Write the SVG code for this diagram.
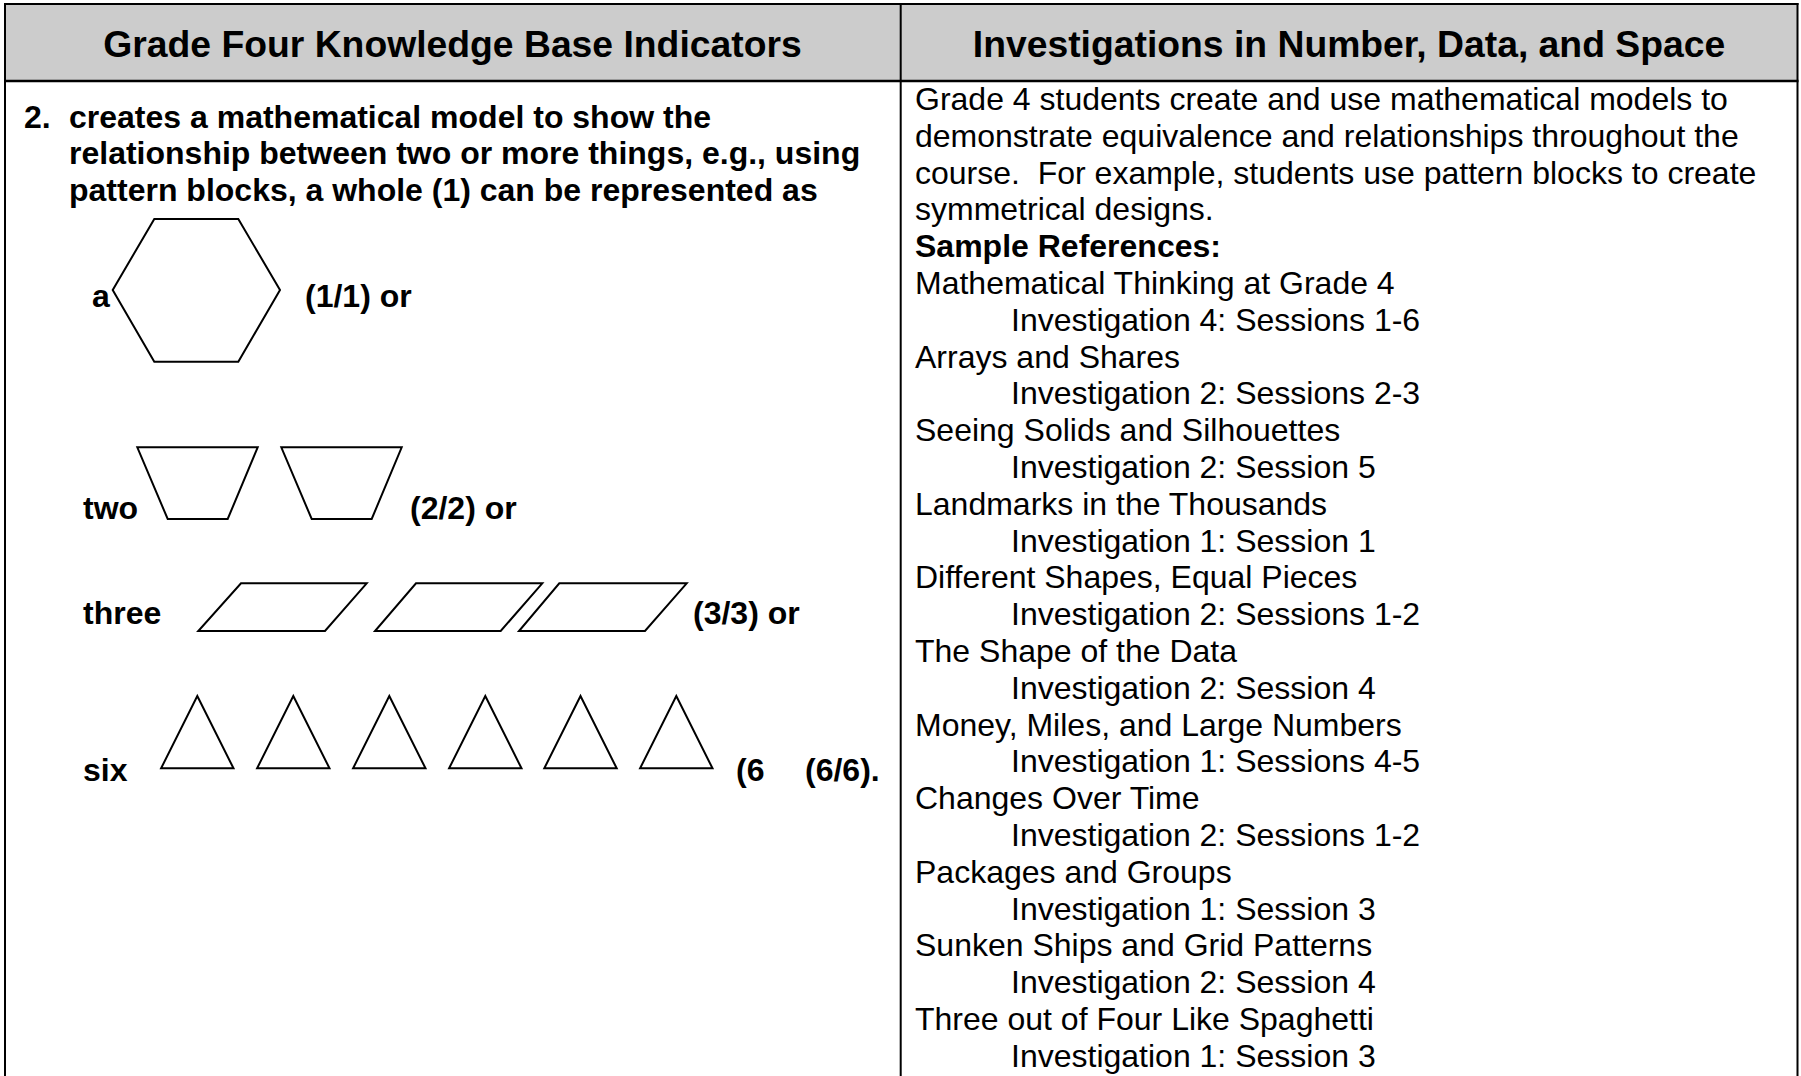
<svg xmlns="http://www.w3.org/2000/svg" width="1801" height="1076" viewBox="0 0 1801 1076">
<style>
.hdr{font-family:"Liberation Sans",Arial,sans-serif;font-weight:bold;font-size:37.3px;fill:#000;text-anchor:middle}
.b{font-family:"Liberation Sans",Arial,sans-serif;font-weight:bold;font-size:32px;fill:#000}
.r{font-family:"Liberation Sans",Arial,sans-serif;font-size:32px;fill:#000}
.shape{fill:#fff;stroke:#000;stroke-width:2;stroke-linejoin:miter}
.grid{stroke:#000;stroke-width:2;fill:none}
</style>
<rect width="1801" height="1076" fill="#fff"/>
<g id="table">
  <rect x="5" y="4" width="1792.5" height="77" fill="#cccccc"/>
  <line class="grid" x1="4" y1="4" x2="1798.5" y2="4"/>
  <line class="grid" x1="4" y1="81" x2="1798.5" y2="81" style="stroke-width:2.5"/>
  <line class="grid" x1="5" y1="3" x2="5" y2="1076"/>
  <line class="grid" x1="900.7" y1="3" x2="900.7" y2="1076"/>
  <line class="grid" x1="1797.5" y1="3" x2="1797.5" y2="1076"/>
</g>
<g id="header-left"><text class="hdr" x="452.5" y="57">Grade Four Knowledge Base Indicators</text></g>
<g id="header-right"><text class="hdr" x="1349" y="57">Investigations in Number, Data, and Space</text></g>
<g id="indicator">
  <text class="b" x="24" y="127.5">2.</text>
  <text class="b" x="69" y="127.5">creates a mathematical model to show the</text>
  <text class="b" x="69" y="164.3">relationship between two or more things, e.g., using</text>
  <text class="b" x="69" y="201.1">pattern blocks, a whole (1) can be represented as</text>
</g>
<g id="hexagon-row">
  <text class="b" x="92" y="307">a</text>
  <polygon class="shape" points="112.7,290 154.3,219 238.3,219 280,290 238.3,361.7 154.3,361.7"/>
  <text class="b" x="305" y="307">(1/1) or</text>
</g>
<g id="trapezoid-row">
  <text class="b" x="83" y="519">two</text>
  <polygon class="shape" points="137.3,447.3 257.7,447.3 227.7,519 167.7,519"/>
  <polygon class="shape" points="281.3,447.3 401.7,447.3 371.7,519 311.7,519"/>
  <text class="b" x="410" y="519">(2/2) or</text>
</g>
<g id="rhombus-row">
  <text class="b" x="83" y="624">three</text>
  <polygon class="shape" points="241,583.3 366.7,583.3 325,631 198.3,631"/>
  <polygon class="shape" points="416,583.3 542.3,583.3 500.7,631 375,631"/>
  <polygon class="shape" points="559.3,583.3 686.7,583.3 645,631 519,631"/>
  <text class="b" x="693" y="624">(3/3) or</text>
</g>
<g id="triangle-row">
  <text class="b" x="83" y="781">six</text>
  <polygon class="shape" points="197.3,696 233.5,768.3 161.1,768.3"/>
  <polygon class="shape" points="293.3,696 329.5,768.3 257.1,768.3"/>
  <polygon class="shape" points="389.3,696 425.5,768.3 353.1,768.3"/>
  <polygon class="shape" points="485.3,696 521.5,768.3 449.1,768.3"/>
  <polygon class="shape" points="580.5,696 616.7,768.3 544.3,768.3"/>
  <polygon class="shape" points="676.3,696 712.5,768.3 640.1,768.3"/>
  <text class="b" x="736" y="781">(6</text>
  <text class="b" x="805" y="781">(6/6).</text>
</g>
<g id="investigations">
  <text class="r" x="915" y="110">Grade 4 students create and use mathematical models to</text>
  <text class="r" x="915" y="146.8">demonstrate equivalence and relationships throughout the</text>
  <text class="r" x="915" y="183.6" xml:space="preserve">course.  For example, students use pattern blocks to create</text>
  <text class="r" x="915" y="220.4">symmetrical designs.</text>
  <text class="b" x="915" y="257.2">Sample References:</text>
  <text class="r" x="915" y="294">Mathematical Thinking at Grade 4</text>
  <text class="r" x="1011" y="330.8">Investigation 4: Sessions 1-6</text>
  <text class="r" x="915" y="367.6">Arrays and Shares</text>
  <text class="r" x="1011" y="404.4">Investigation 2: Sessions 2-3</text>
  <text class="r" x="915" y="441.2">Seeing Solids and Silhouettes</text>
  <text class="r" x="1011" y="478">Investigation 2: Session 5</text>
  <text class="r" x="915" y="514.8">Landmarks in the Thousands</text>
  <text class="r" x="1011" y="551.6">Investigation 1: Session 1</text>
  <text class="r" x="915" y="588.4">Different Shapes, Equal Pieces</text>
  <text class="r" x="1011" y="625.2">Investigation 2: Sessions 1-2</text>
  <text class="r" x="915" y="662">The Shape of the Data</text>
  <text class="r" x="1011" y="698.8">Investigation 2: Session 4</text>
  <text class="r" x="915" y="735.6">Money, Miles, and Large Numbers</text>
  <text class="r" x="1011" y="772.4">Investigation 1: Sessions 4-5</text>
  <text class="r" x="915" y="809.2">Changes Over Time</text>
  <text class="r" x="1011" y="846">Investigation 2: Sessions 1-2</text>
  <text class="r" x="915" y="882.8">Packages and Groups</text>
  <text class="r" x="1011" y="919.6">Investigation 1: Session 3</text>
  <text class="r" x="915" y="956.4">Sunken Ships and Grid Patterns</text>
  <text class="r" x="1011" y="993.2">Investigation 2: Session 4</text>
  <text class="r" x="915" y="1030">Three out of Four Like Spaghetti</text>
  <text class="r" x="1011" y="1066.8">Investigation 1: Session 3</text>
</g>
</svg>
